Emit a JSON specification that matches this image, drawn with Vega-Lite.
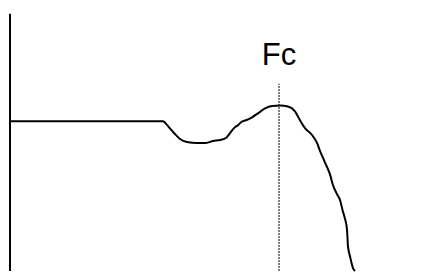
{
  "$schema": "https://vega.github.io/schema/vega-lite/v6.json",
  "width": 424,
  "height": 275,
  "padding": 0,
  "autosize": {"type": "fit", "contains": "padding"},
  "background": "white",
  "config": {"view": {"stroke": null}},
  "datasets": {
    "curve": [
      {"freq": 10, "gain": 152},
      {"freq": 163, "gain": 152},
      {"freq": 168, "gain": 147},
      {"freq": 174, "gain": 140},
      {"freq": 180, "gain": 134},
      {"freq": 187, "gain": 131},
      {"freq": 197, "gain": 130},
      {"freq": 206, "gain": 130},
      {"freq": 213, "gain": 132},
      {"freq": 220, "gain": 133},
      {"freq": 226, "gain": 135},
      {"freq": 230, "gain": 140},
      {"freq": 234, "gain": 145},
      {"freq": 238, "gain": 148},
      {"freq": 241, "gain": 151},
      {"freq": 246, "gain": 153},
      {"freq": 252, "gain": 156},
      {"freq": 258, "gain": 160},
      {"freq": 265, "gain": 165},
      {"freq": 272, "gain": 167.5},
      {"freq": 280, "gain": 168},
      {"freq": 288, "gain": 167},
      {"freq": 295, "gain": 162},
      {"freq": 300, "gain": 153},
      {"freq": 305, "gain": 145},
      {"freq": 312, "gain": 138},
      {"freq": 317, "gain": 130},
      {"freq": 320, "gain": 122},
      {"freq": 325, "gain": 110},
      {"freq": 330, "gain": 98},
      {"freq": 333, "gain": 87},
      {"freq": 337, "gain": 78},
      {"freq": 340, "gain": 72},
      {"freq": 343, "gain": 60},
      {"freq": 345, "gain": 53},
      {"freq": 347, "gain": 42},
      {"freq": 348, "gain": 25},
      {"freq": 350, "gain": 15},
      {"freq": 353, "gain": 3},
      {"freq": 355, "gain": 0}
    ],
    "axisLine": [{"freq": 10, "lo": 0, "hi": 261}],
    "fc": [{"freq": 279, "lo": 0, "hi": 190, "label": "Fc", "labelY": 209}]
  },
  "layer": [
    {
      "data": {"name": "axisLine"},
      "mark": {"type": "rule", "color": "black", "strokeWidth": 2},
      "encoding": {
        "x": {"field": "freq", "type": "quantitative", "scale": {"domain": [0, 424], "nice": false, "zero": false}, "axis": null},
        "y": {"field": "lo", "type": "quantitative", "scale": {"domain": [0, 275], "nice": false, "zero": false}, "axis": null},
        "y2": {"field": "hi"}
      }
    },
    {
      "data": {"name": "fc"},
      "mark": {"type": "rule", "color": "black", "strokeWidth": 1, "strokeDash": [2, 1]},
      "encoding": {
        "x": {"field": "freq", "type": "quantitative"},
        "y": {"field": "lo", "type": "quantitative"},
        "y2": {"field": "hi"}
      }
    },
    {
      "data": {"name": "fc"},
      "mark": {"type": "text", "color": "black", "font": "Liberation Sans", "fontSize": 31, "align": "center", "baseline": "alphabetic"},
      "encoding": {
        "x": {"field": "freq", "type": "quantitative"},
        "y": {"field": "labelY", "type": "quantitative"},
        "text": {"field": "label"}
      }
    },
    {
      "data": {"name": "curve"},
      "mark": {"type": "line", "color": "black", "strokeWidth": 2, "interpolate": "monotone"},
      "encoding": {
        "x": {"field": "freq", "type": "quantitative"},
        "y": {"field": "gain", "type": "quantitative"}
      }
    }
  ]
}
